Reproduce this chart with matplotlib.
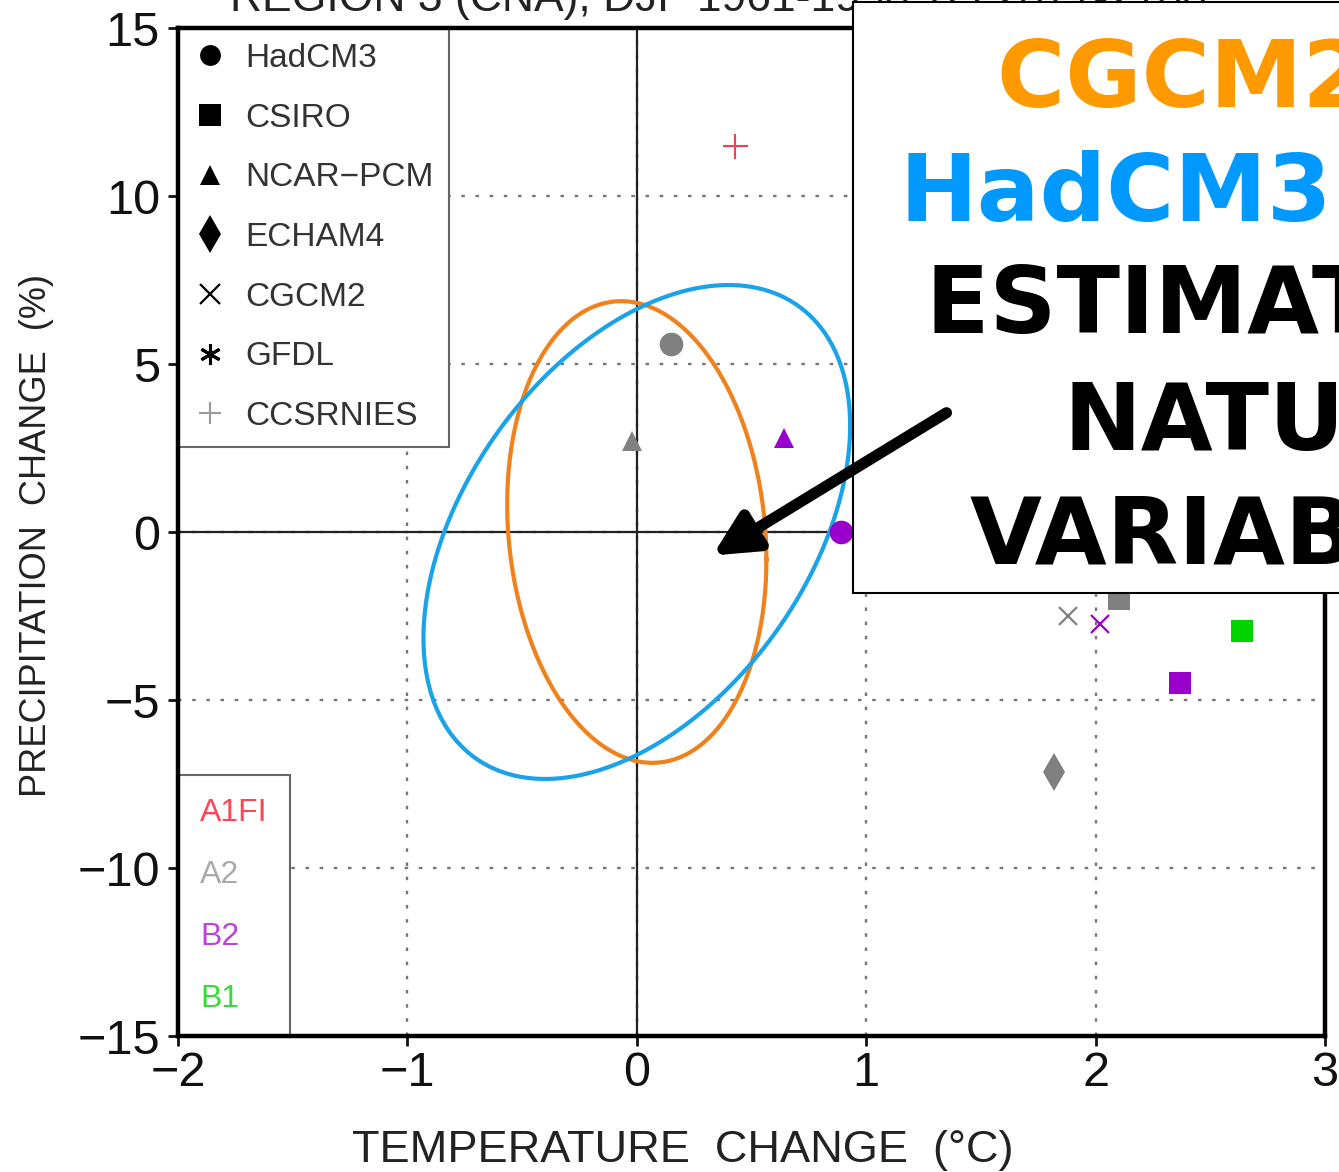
import numpy as np
import matplotlib
matplotlib.use("Agg")
import matplotlib.pyplot as plt
from matplotlib.lines import Line2D
from matplotlib.patches import Rectangle, FancyArrowPatch

# ---- projected changes: one entry per model / scenario run ----
point_models = ["CCSRNIES", "HadCM3", "NCAR-PCM", "NCAR-PCM", "HadCM3",
                "CSIRO", "CGCM2", "CGCM2", "CSIRO", "CSIRO", "ECHAM4"]
point_scenarios = ["A1FI", "A2", "A2", "B2", "B2",
                   "A2", "A2", "B2", "B1", "B2", "A2"]
temp_change = [0.43, 0.15, -0.02, 0.64, 0.89, 2.10, 1.88, 2.02, 2.64, 2.37, 1.82]
precip_change = [11.5, 5.6, 2.7, 2.8, 0.0, -2.0, -2.5, -2.75, -2.95, -4.5, -7.15]

# ---- natural-variability ellipses (half ranges and T/P correlation) ----
ellipse_models = ["CGCM2", "HadCM3"]
ellipse_temp_half = [0.565, 0.93]
ellipse_precip_half = [6.87, 7.35]
ellipse_corr = [-0.12, 0.43]
ellipse_colors = ["#F0821E", "#1AA3E8"]

# ---- legends ----
model_names = ["HadCM3", "CSIRO", "NCAR-PCM", "ECHAM4", "CGCM2", "GFDL", "CCSRNIES"]
model_labels = ["HadCM3", "CSIRO", "NCAR\u2212PCM", "ECHAM4", "CGCM2", "GFDL", "CCSRNIES"]
scenario_names = ["A1FI", "A2", "B2", "B1"]
scenario_colors = ["#F2405A", "#808080", "#9900CC", "#00D400"]
scenario_text_colors = ["#FF4455", "#AAAAAA", "#BB44DD", "#33DD33"]

xticks = [-2, -1, 0, 1, 2, 3]
yticks = [-15, -10, -5, 0, 5, 10, 15]

box_lines = ["CGCM2 and", "HadCM3", "ESTIMATES OF", "NATURAL", "VARIABILITY"]
box_colors = ["#FF9900", "#0099FF", "black", "black", "black"]

# marker style per model: (marker, plot size, legend size, edge width)
marker_style = {
    "HadCM3":   ("o", 17, 15, 0),
    "CSIRO":    ("s", 16, 16, 0),
    "NCAR-PCM": ("^", 14, 14, 0),
    "ECHAM4":   ("d", 19, 19, 0),
    "CGCM2":    ("x", 13, 14, 1.6),
    "GFDL":     ((6, 2, 0), 15, 15, 2.2),
    "CCSRNIES": ("+", 18, 16, 1.5),
}
scen_color = dict(zip(scenario_names, scenario_colors))

plt.rcParams["font.family"] = ["Liberation Sans", "DejaVu Sans"]

W, H = 1339, 1172
fig = plt.figure(figsize=(W / 100, H / 100), dpi=100)
ax = fig.add_axes([178 / W, 1 - 1036 / H, (1325 - 178) / W, (1036 - 28) / H])

ax.set_xlim(xticks[0], xticks[-1])
ax.set_ylim(yticks[0], yticks[-1])
ax.set_xticks(xticks)
ax.set_yticks(yticks)
ax.tick_params(direction="out", length=7, width=2, labelsize=35,
               colors="#111111", top=False, right=False)
ax.tick_params(axis="x", pad=4)
ax.tick_params(axis="y", pad=6)
for sp in ax.spines.values():
    sp.set_linewidth(3.2)
    sp.set_zorder(10)

# dotted grid and solid zero lines
ax.grid(True, linestyle=(0, (1.5, 4.5)), color="#777777", linewidth=1.7)
ax.axhline(0, color="#222222", linewidth=1.6, zorder=2)
ax.axvline(0, color="#222222", linewidth=1.6, zorder=2)

# natural variability ellipses
t = np.linspace(0, 2 * np.pi, 400)
for sx, sy, r, c in zip(ellipse_temp_half, ellipse_precip_half, ellipse_corr, ellipse_colors):
    phi = np.arccos(r)
    ax.plot(sx * np.cos(t), sy * np.cos(t - phi), color=c, linewidth=3, zorder=3)

# scenario points
for m, s, x, y in zip(point_models, point_scenarios, temp_change, precip_change):
    mk, size, _, mew = marker_style[m]
    ax.plot([x], [y], linestyle="none", marker=mk, markersize=size,
            color=scen_color[s], markeredgewidth=mew, zorder=5)

# model legend
h1 = []
for m in model_names:
    mk, _, lsize, mew = marker_style[m]
    col = "#999999" if m == "CCSRNIES" else "black"
    h1.append(Line2D([], [], linestyle="none", marker=mk, markersize=lsize,
                     color=col, markeredgewidth=mew))
leg1 = ax.legend(h1, model_labels, loc="upper left", bbox_to_anchor=(0, 1),
                 borderaxespad=0, fontsize=24, frameon=True, fancybox=False,
                 edgecolor="#666666", framealpha=1, borderpad=0.45,
                 labelspacing=0.86, handlelength=1.02, handletextpad=0.55,
                 labelcolor="#333333")
leg1.get_frame().set_linewidth(1.5)
leg1.set_zorder(8)
ax.add_artist(leg1)

# scenario legend (coloured labels only)
h2 = [Line2D([], [], linestyle="none") for _ in scenario_names]
leg2 = ax.legend(h2, scenario_names, loc="lower left", bbox_to_anchor=(0, 0),
                 borderaxespad=0, fontsize=23, frameon=True, fancybox=False,
                 edgecolor="#666666", framealpha=1, borderpad=0.7,
                 labelspacing=1.0, handlelength=0, handletextpad=0,
                 labelcolor=scenario_text_colors)
leg2.get_frame().set_linewidth(1.5)
leg2.set_zorder(8)

# axis titles
fig.text(683 / W, 1 - 1162 / H, "TEMPERATURE  CHANGE  (\u00b0C)", ha="center",
         va="baseline", fontsize=32.5, color="#222222")
fig.text(37 / W, 1 - 535 / H, "PRECIPITATION  CHANGE  (%)", ha="center",
         va="center", rotation=90, fontsize=26, color="#222222")
fig.text(230 / W, 1 - 11 / H, "REGION 3 (CNA); DJF 1961-1990 TO 2071-2100",
         ha="left", va="baseline", fontsize=32, color="#222222")

# call-out box
box = Rectangle((853 / W, 1 - 593 / H), 0.5, (593 - 2) / H, transform=fig.transFigure,
                facecolor="white", edgecolor="black", linewidth=1.5, zorder=10)
fig.add_artist(box)
line_x = [997, 899, 926, 1063, 970]
line_base = [107, 221, 333, 450, 563]
for txt, col, lx, lb in zip(box_lines, box_colors, line_x, line_base):
    fig.text(lx / W, 1 - lb / H, txt, color=col, fontsize=67, fontweight="bold",
             family="DejaVu Sans", ha="left", va="baseline", zorder=11)

arrow = FancyArrowPatch((1.35, 3.55), (0.33, -0.7), transform=ax.transData,
                        arrowstyle="-|>,head_length=1.3,head_width=0.65",
                        mutation_scale=20, linewidth=8, color="black",
                        shrinkA=0, shrinkB=0, zorder=12)
fig.add_artist(arrow)

fig.savefig("out.png", dpi=100)
